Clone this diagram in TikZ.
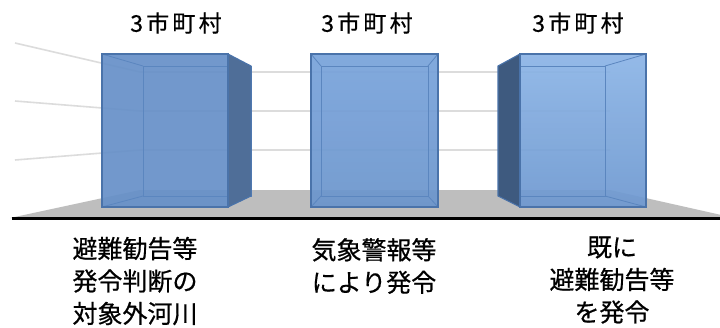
\documentclass[tikz,border=0pt]{standalone}
\usepackage{fontspec}
\newfontfamily\jp[FakeBold=0.6]{Noto Sans CJK JP}
\definecolor{gridgray}{HTML}{DCDCDC}
\definecolor{floorgray}{HTML}{BEBEBE}
\definecolor{baseline}{HTML}{3C3C3C}
\definecolor{edgeblue}{HTML}{4A73AA}
\definecolor{inneredge}{HTML}{5B86BF}
\definecolor{sideA}{HTML}{4F6E98}
\definecolor{sideC}{HTML}{3E5A7F}
\definecolor{frontA}{HTML}{6690C8}
\definecolor{frontBt}{HTML}{78A3DB}
\definecolor{frontBb}{HTML}{6A94CC}
\definecolor{frontCt}{HTML}{8BB4E6}
\definecolor{frontCb}{HTML}{6D98D0}
\begin{document}
\begin{tikzpicture}[x=1pt,y=-1pt,
  gridline/.style={draw=gridgray,line width=1.6pt},
  frontface/.style={draw=edgeblue,line width=1.1pt,fill opacity=0.9},
  sideface/.style={draw=edgeblue,line width=1.1pt},
  inner/.style={draw=inneredge,line width=0.8pt},
  toplbl/.style={font=\jp\fontsize{23}{28}\addfontfeature{LetterSpace=14}\selectfont,inner sep=0pt},
  botlbl/.style={font=\jp\fontsize{25}{32.5}\selectfont,align=center,inner sep=0pt}]
\useasboundingbox (0,0) rectangle (720,327);
\fill[white] (0,0) rectangle (720,327);
% walls
\draw[gridline] (15,43) -- (140,72) -- (610,72);
\draw[gridline] (15,101) -- (140,111) -- (610,111);
\draw[gridline] (15,160) -- (140,150) -- (610,150);
% floor
\fill[floorgray] (10,218) -- (140,190) -- (610,190) -- (720,214.7) -- (720,218) -- cycle;
\draw[baseline,line width=3pt] (12,218.5) -- (720,218.5);
% box 1
\fill[frontA,fill opacity=0.92] (102,54) rectangle (228,207);
\draw[inner] (143,66) rectangle (251,196);
\draw[inner] (102,54) -- (143,66) (102,207) -- (143,196);
\fill[sideA] (228,54) -- (251,66) -- (251,196) -- (228,207) -- cycle;
\draw[sideface] (228,54) -- (251,66) -- (251,196) -- (228,207);
\draw[frontface,fill=none] (102,54) rectangle (228,207);
% box 2
\shade[top color=frontBt,bottom color=frontBb,opacity=0.92] (311,54) rectangle (438,207);
\draw[inner] (321,66) rectangle (428,196);
\draw[inner] (311,54) -- (321,66) (438,54) -- (428,66) (311,207) -- (321,196) (438,207) -- (428,196);
\draw[frontface,fill=none] (311,54) rectangle (438,207);
% box 3
\shade[top color=frontCt,bottom color=frontCb,opacity=0.92] (520,54) rectangle (646,207);
\draw[inner] (498,66) rectangle (605,196);
\draw[inner] (646,54) -- (605,66) (646,207) -- (605,196);
\fill[sideC] (520,54) -- (498,66) -- (498,196) -- (520,207) -- cycle;
\draw[sideface] (520,54) -- (498,66) -- (498,196) -- (520,207);
\draw[frontface,fill=none] (520,54) rectangle (646,207);
% labels
\node[toplbl] (t1) at (176,23) {3市町村};
\node[toplbl] (t2) at (367,23) {3市町村};
\node[toplbl] (t3) at (578,23) {3市町村};
\node[botlbl] (b1) at (135,281) {避難勧告等\\発令判断の\\対象外河川};
\node[botlbl] (b2) at (374,266) {気象警報等\\により発令};
\node[botlbl] (b3) at (612,280) {既に\\避難勧告等\\を発令};
\end{tikzpicture}
\end{document}
